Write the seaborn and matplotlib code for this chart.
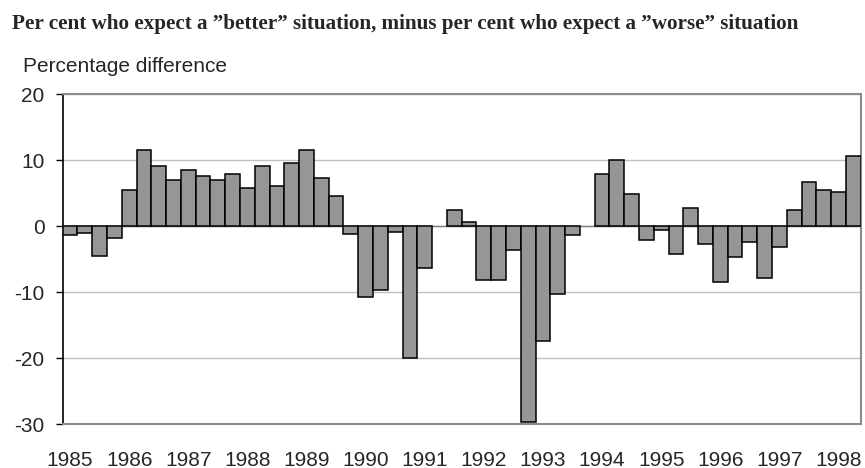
import matplotlib
matplotlib.use("Agg")
import matplotlib.pyplot as plt
import seaborn as sns
import pandas as pd
import numpy as np

# quarterly data, 1985 Q1 - 1998 Q2 (NaN = no survey that quarter)
years = list(range(1985, 1999))
quarters = [f"{y} Q{q}" for y in years for q in range(1, 5)][:54]
values = [
    -1.3, -1.0, -4.5, -1.8,      # 1985
    5.5, 11.5, 9.1, 7.0,         # 1986
    8.5, 7.6, 7.0, 7.9,          # 1987
    5.8, 9.1, 6.1, 9.5,          # 1988
    11.5, 7.3, 4.5, -1.2,        # 1989
    -10.8, -9.6, -0.9, -19.9,    # 1990
    -6.3, np.nan, 2.5, 0.6,      # 1991
    -8.1, -8.1, -3.6, -29.6,     # 1992
    -17.4, -10.2, -1.4, np.nan,  # 1993
    7.9, 10.0, 4.9, -2.1,        # 1994
    -0.6, -4.2, 2.7, -2.7,       # 1995
    -8.5, -4.7, -2.4, -7.9,      # 1996
    -3.2, 2.5, 6.7, 5.5,         # 1997
    5.2, 10.6,                   # 1998
]
year_labels = [str(y) for y in years]

df = pd.DataFrame({"quarter": quarters, "value": values})

sns.set_style("white")
plt.rcParams["font.family"] = ["Liberation Sans", "DejaVu Sans"]

fig = plt.figure(figsize=(8.65, 4.68), dpi=100)
ax = fig.add_axes([0.0725, 0.0934, 0.9225, 0.7056])

sns.barplot(data=df, x="quarter", y="value", order=quarters,
            color="#969696", saturation=1, width=1.0,
            edgecolor="black", linewidth=1.1, ax=ax, zorder=3)

ax.set_ylim(-30, 20)
ax.set_xlim(-0.5, len(quarters) - 0.5)
ax.set_yticks([20, 10, 0, -10, -20, -30])
ax.set_yticklabels(["20", "10", "0", "-10", "-20", "-30"], fontsize=15)
ax.set_xticks(range(0, len(quarters), 4))
ax.set_xticklabels(year_labels, fontsize=15)
ax.tick_params(axis="x", length=0, pad=19)
ax.tick_params(axis="y", length=5, width=1, color="black", direction="out", pad=8, left=True)
ax.set_xlabel("")
ax.set_ylabel("")

ax.grid(axis="y", color="#c0c0c0", linewidth=1, zorder=0)
ax.axhline(0, color="#808080", linewidth=1, zorder=2)
for side in ["top", "right", "bottom"]:
    ax.spines[side].set_color("#8c8c8c")
    ax.spines[side].set_linewidth(1.5)
ax.spines["left"].set_color("black")
ax.spines["left"].set_linewidth(1.2)

fig.text(0.0135, 0.937, "Per cent who expect a \u201dbetter\u201d situation, minus per cent who expect a \u201dworse\u201d situation",
         family=["Liberation Serif", "DejaVu Serif"], fontweight="bold", fontsize=15.2,
         va="baseline", ha="left")
fig.text(0.027, 0.847, "Percentage difference", fontsize=15, va="baseline", ha="left")

fig.savefig("out.png", dpi=100)
